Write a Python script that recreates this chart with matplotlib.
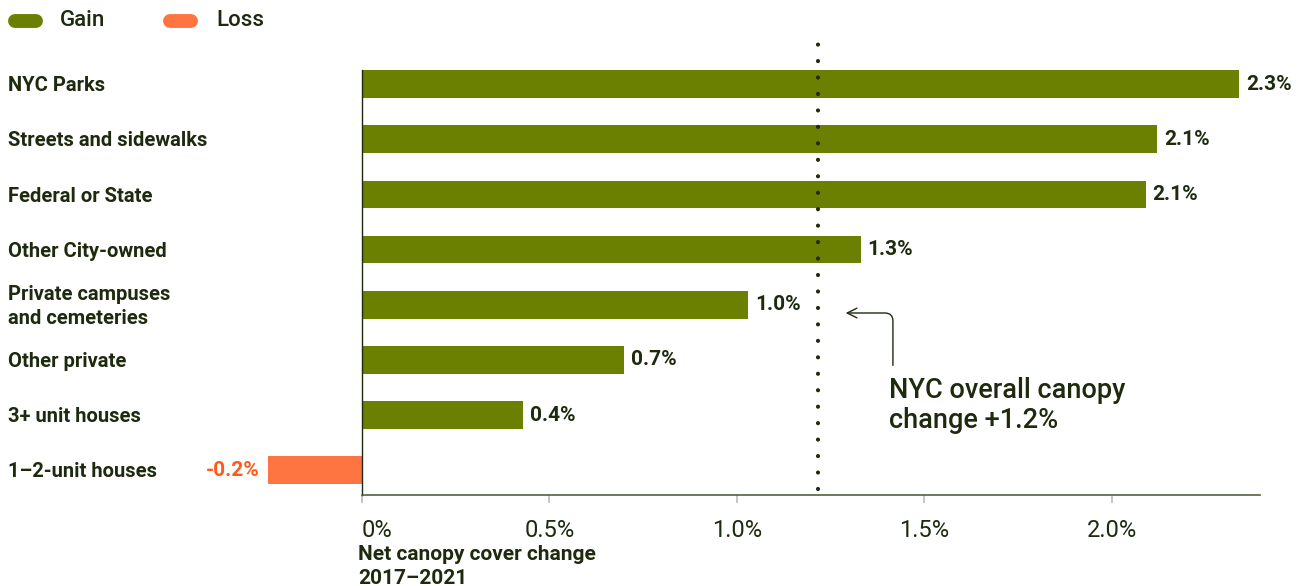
import matplotlib
matplotlib.use("Agg")
import matplotlib.pyplot as plt
from matplotlib.lines import Line2D
from matplotlib.transforms import IdentityTransform, blended_transform_factory

categories = ["NYC Parks", "Streets and sidewalks", "Federal or State", "Other City-owned",
              "Private campuses\nand cemeteries", "Other private", "3+ unit houses", "1–2-unit houses"]
values = [2.34, 2.12, 2.09, 1.33, 1.03, 0.70, 0.43, -0.25]
value_labels = ["2.3%", "2.1%", "2.1%", "1.3%", "1.0%", "0.7%", "0.4%", "-0.2%"]
overall = 1.215
xticks = [0, 0.5, 1.0, 1.5, 2.0]
xtick_labels = ["0%", "0.5%", "1.0%", "1.5%", "2.0%"]

GREEN = "#6b8000"
ORANGE = "#ff7542"
ORANGE_TXT = "#ff5a1a"
DARK = "#1d2a0e"

plt.rcParams["font.family"] = ["Roboto", "DejaVu Sans"]

fig = plt.figure(figsize=(13.03, 5.86), dpi=100)
ax = fig.add_axes([264.5 / 1303, 1 - 495 / 586, (1260 - 264.5) / 1303, (495 - 40) / 586])

y = list(range(len(categories)))
colors = [GREEN if v >= 0 else ORANGE for v in values]
ax.barh(y, values, height=0.5, color=colors, zorder=2)

ax.set_xlim(-0.26, 2.395)
ax.set_ylim(7.45, -0.8)

for yi, v, lab in zip(y, values, value_labels):
    if v >= 0:
        ax.annotate(lab, (v, yi), xytext=(5, 0), textcoords="offset points",
                    ha="left", va="center", fontsize=15, fontweight="bold", color=DARK)
    else:
        ax.annotate(lab, (v, yi), xytext=(-6, 0), textcoords="offset points",
                    ha="right", va="center", fontsize=15, fontweight="bold", color=ORANGE_TXT)

# category labels at figure left
tr = blended_transform_factory(fig.transFigure, ax.transData)
for yi, cat in zip(y, categories):
    ax.text(8 / 1303, yi + 0.03, cat, transform=tr, ha="left", va="center", fontsize=14.5,
            fontweight="bold", color=DARK, linespacing=1.3)

# spines
for s in ["top", "right"]:
    ax.spines[s].set_visible(False)
ax.spines["left"].set_position(("data", 0))
ax.spines["left"].set_bounds(-0.25, 7.45)
ax.spines["left"].set_color(DARK)
ax.spines["left"].set_linewidth(1.0)
ax.spines["bottom"].set_bounds(0, 2.395)
ax.spines["bottom"].set_color("#55613f")
ax.spines["bottom"].set_linewidth(1.2)

ax.set_yticks([])
ax.set_xticks(xticks)
ax.set_xticklabels(xtick_labels, fontsize=17, color=DARK)
ax.get_xticklabels()[0].set_ha("left")
ax.tick_params(axis="x", length=6, width=1.2, color="#bbbbbb", pad=11)

# overall dotted line
ax.plot([overall, overall], [7.35, -0.77], color=DARK, lw=3,
        linestyle=(0, (0.01, 3.94)), dash_capstyle="round", zorder=3)

ax.annotate("", xy=(1.29, 4.15), xytext=(1.416, 5.1),
            arrowprops=dict(arrowstyle="->,head_length=0.7,head_width=0.35", color=DARK, lw=1.0,
                            connectionstyle="angle,angleA=90,angleB=0,rad=8",
                            shrinkA=0, shrinkB=0))
ax.text(1.405, 5.83, "NYC overall canopy\nchange +1.2%", ha="left", va="center",
        fontsize=19.5, fontweight="medium", color=DARK, linespacing=1.15)

# axis title
fig.text(358 / 1303, 1 - 545 / 586, "Net canopy cover change\n2017–2021", ha="left", va="top",
         fontsize=15, fontweight="bold", color=DARK, linespacing=1.3)

# legend
px = IdentityTransform()
fig.add_artist(Line2D([15, 36], [586 - 21, 586 - 21], lw=10, color=GREEN,
                      solid_capstyle="round", transform=px))
fig.add_artist(Line2D([170, 191], [586 - 21, 586 - 21], lw=10, color=ORANGE,
                      solid_capstyle="round", transform=px))
fig.text(60 / 1303, 1 - 21 / 586, "Gain", ha="left", va="center", fontsize=16,
         fontweight="medium", color=DARK)
fig.text(216 / 1303, 1 - 21 / 586, "Loss", ha="left", va="center", fontsize=16,
         fontweight="medium", color=DARK)

fig.savefig("out.png", dpi=100)
